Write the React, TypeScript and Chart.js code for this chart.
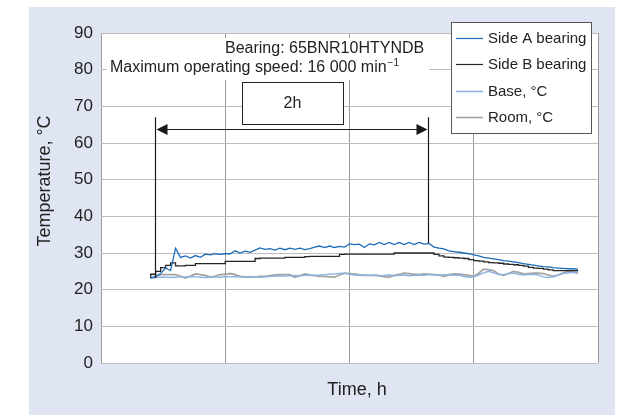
import React, { useEffect, useRef } from "react";
import { Chart, registerables } from "chart.js";

Chart.register(...registerables);

const FONT = "'Liberation Sans', Arial, Helvetica, sans-serif";

// Time axis positions (in grid units, 0..4)
const times = [
  0.40, 0.44, 0.48, 0.52, 0.56, 0.60, 0.64, 0.68, 0.72, 0.76,
  0.80, 0.84, 0.88, 0.92, 0.96, 1.00, 1.04, 1.08, 1.12, 1.16,
  1.20, 1.24, 1.28, 1.32, 1.36, 1.40, 1.44, 1.48, 1.52, 1.56,
  1.60, 1.64, 1.68, 1.72, 1.76, 1.80, 1.84, 1.88, 1.92, 1.96,
  2.00, 2.04, 2.08, 2.12, 2.16, 2.20, 2.24, 2.28, 2.32, 2.36,
  2.40, 2.44, 2.48, 2.52, 2.56, 2.60, 2.64, 2.68, 2.72, 2.76,
  2.80, 2.84, 2.88, 2.92, 2.96, 3.00, 3.04, 3.08, 3.12, 3.16,
  3.20, 3.24, 3.28, 3.32, 3.36, 3.40, 3.44, 3.48, 3.52, 3.56,
  3.60, 3.64, 3.68, 3.72, 3.76, 3.80, 3.84,
];

const sideA = [
  23.2, 23.6, 24.4, 25.9, 25.2, 31.3, 28.8, 29.2, 28.6, 29.3,
  28.8, 29.7, 29.5, 29.8, 29.6, 29.8, 29.8, 30.6, 30.0, 30.5,
  30.2, 30.8, 31.4, 31.0, 31.2, 30.8, 31.3, 30.9, 31.3, 31.0,
  31.3, 30.9, 31.2, 31.6, 31.9, 31.5, 31.9, 31.5, 31.8, 31.6,
  32.5, 32.3, 32.4, 31.5, 32.5, 32.2, 32.9, 32.3, 32.9, 32.3,
  32.9, 32.3, 32.9, 32.3, 32.9, 32.4, 32.6, 31.6, 31.3, 31.1,
  30.6, 30.4, 30.2, 30.0, 29.8, 29.5, 29.2, 28.8, 28.6, 28.4,
  28.2, 27.9, 27.8, 27.6, 27.4, 27.1, 26.9, 26.7, 26.5, 26.3,
  26.2, 26.0, 25.9, 25.8, 25.7, 25.7, 25.6,
];

const sideB = [
  23.2, 24.2, 25.0, 26.0, 26.6, 27.3, 26.5, 26.5, 26.6, 26.6,
  27.1, 27.1, 27.1, 27.1, 27.1, 27.1, 27.7, 27.7, 27.7, 27.7,
  27.7, 27.7, 28.5, 28.6, 28.6, 28.6, 28.6, 28.6, 28.8, 28.8,
  28.8, 28.8, 29.0, 29.1, 29.1, 29.1, 29.1, 29.1, 29.1, 29.6,
  29.7, 29.7, 29.7, 29.7, 29.7, 29.7, 29.7, 29.7, 29.7, 29.7,
  30.0, 30.0, 30.0, 30.0, 30.0, 30.0, 30.0, 30.0, 29.6, 29.2,
  28.9, 28.8, 28.7, 28.6, 28.5, 28.2, 27.9, 27.8, 27.6, 27.4,
  27.3, 27.2, 27.0, 26.9, 26.8, 26.6, 26.4, 26.1, 25.9, 25.8,
  25.6, 25.4, 25.2, 25.2, 25.2, 25.2, 25.2,
];

const base = [
  23.2, 23.3, 23.4, 23.4, 23.3, 23.4, 23.5, 23.5, 23.6, 23.5,
  23.4, 23.3, 23.4, 23.5, 23.4, 23.6, 23.5, 23.6, 23.5, 23.4,
  23.6, 23.5, 23.4, 23.5, 23.6, 23.7, 23.8, 23.7, 23.8, 23.9,
  23.8, 23.9, 24.0, 23.9, 24.0, 24.1, 24.2, 24.3, 24.4, 24.5,
  24.2, 24.0, 23.9, 24.0, 23.9, 24.0, 23.8, 23.9, 24.0, 23.8,
  23.9, 24.0, 23.8, 23.9, 24.0, 23.9, 24.1, 24.0, 23.9, 24.1,
  24.0, 23.9, 24.0, 23.6, 23.4, 23.5, 24.0, 24.6, 25.0, 24.6,
  24.2, 24.1, 24.4, 24.5, 24.2, 24.0, 24.1, 24.2, 24.0, 23.5,
  23.3, 23.6, 24.0, 24.4, 24.6, 24.7, 24.8,
];

const room = [
  23.0, 23.6, 24.1, 24.1, 24.1, 24.1, 23.6, 23.2, 23.7, 24.3,
  24.1, 23.9, 23.4, 23.7, 24.1, 24.2, 24.4, 24.1, 23.6, 23.5,
  23.4, 23.5, 23.6, 23.6, 23.8, 24.0, 24.1, 24.1, 24.1, 23.4,
  23.8, 24.3, 24.0, 23.8, 23.6, 23.6, 23.5, 23.4, 24.0, 24.5,
  24.4, 24.3, 24.0, 23.9, 23.9, 23.9, 23.8, 23.5, 23.4, 23.9,
  24.2, 24.5, 24.4, 24.2, 24.1, 24.3, 24.2, 24.1, 24.0, 23.6,
  24.1, 24.3, 24.2, 24.1, 23.9, 23.6, 24.5, 25.6, 25.4, 25.2,
  24.2, 23.9, 24.4, 25.0, 24.7, 24.3, 24.4, 24.5, 24.5, 24.4,
  24.0, 23.6, 24.0, 24.6, 25.0, 24.8, 24.5,
];

const seriesLabels = ["Side A bearing", "Side B bearing", "Base, °C", "Room, °C"];
const seriesColors = ["#1b6cb8", "#262626", "#8fb2e2", "#a3a3a3"];
const yTicks = [0, 10, 20, 30, 40, 50, 60, 70, 80, 90];
const xGrid = [0, 1, 2, 3, 4];

const yTitle = "Temperature, °C";
const xTitle = "Time, h";
const noteLine1 = "Bearing: 65BNR10HTYNDB";
const noteLine2 = "Maximum operating speed: 16 000 min";
const noteSup = "−1";
const spanLabel = "2h";

// 2h span markers (data units)
const spanStart = 0.434;
const spanEnd = 2.63;
const spanLevel = 63.8;
const spanTop = 67;
const spanStartFoot = 23.2;
const spanEndFoot = 32.7;

const bgPlugin = {
  id: "bg",
  beforeDraw(chart: any) {
    const ctx = chart.ctx;
    ctx.save();
    ctx.fillStyle = "#ffffff";
    ctx.fillRect(0, 0, chart.width, chart.height);
    ctx.fillStyle = "#dfe5f2";
    ctx.fillRect(29, 7, 586, 408);
    ctx.fillStyle = "#ffffff";
    const a = chart.chartArea;
    ctx.fillRect(a.left, a.top, a.right - a.left, a.bottom - a.top);
    ctx.restore();
  },
};

const annoPlugin = {
  id: "anno",
  afterDraw(chart: any) {
    const ctx = chart.ctx;
    const xs = chart.scales.x;
    const ys = chart.scales.y;
    ctx.save();

    // axis titles
    ctx.fillStyle = "#222";
    ctx.font = `18px ${FONT}`;
    ctx.textAlign = "center";
    ctx.textBaseline = "middle";
    ctx.fillText(xTitle, 357, 390);
    ctx.save();
    ctx.translate(45, 181);
    ctx.rotate(-Math.PI / 2);
    ctx.fillText(yTitle, 0, 0);
    ctx.restore();

    // note box
    ctx.fillStyle = "#ffffff";
    ctx.fillRect(107, 38, 322, 42);
    ctx.fillStyle = "#222";
    ctx.font = `16px ${FONT}`;
    ctx.textAlign = "left";
    ctx.textBaseline = "middle";
    ctx.fillText(noteLine1, 225, 49);
    ctx.fillText(noteLine2, 110, 68);
    const w2 = ctx.measureText(noteLine2).width;
    ctx.font = `10px ${FONT}`;
    ctx.fillText(noteSup, 110 + w2 + 1, 63);

    // 2h box
    ctx.fillStyle = "#ffffff";
    ctx.fillRect(242, 82, 101, 42);
    ctx.strokeStyle = "#222";
    ctx.lineWidth = 1;
    ctx.strokeRect(242.5, 82.5, 101, 42);
    ctx.fillStyle = "#222";
    ctx.font = `16px ${FONT}`;
    ctx.textAlign = "center";
    ctx.fillText(spanLabel, 292.5, 104);

    // span lines and arrow
    const x1 = Math.round(xs.getPixelForValue(spanStart)) + 0.5;
    const x2 = Math.round(xs.getPixelForValue(spanEnd)) + 0.5;
    const yA = Math.round(ys.getPixelForValue(spanLevel)) + 0.5;
    const yT = ys.getPixelForValue(spanTop);
    ctx.strokeStyle = "#1a1a1a";
    ctx.lineWidth = 1.2;
    ctx.beginPath();
    ctx.moveTo(x1, yT);
    ctx.lineTo(x1, ys.getPixelForValue(spanStartFoot));
    ctx.moveTo(x2, yT);
    ctx.lineTo(x2, ys.getPixelForValue(spanEndFoot));
    ctx.moveTo(x1 + 6, yA);
    ctx.lineTo(x2 - 6, yA);
    ctx.stroke();
    ctx.fillStyle = "#1a1a1a";
    ctx.beginPath();
    ctx.moveTo(x1 + 1, yA);
    ctx.lineTo(x1 + 12, yA - 5.5);
    ctx.lineTo(x1 + 12, yA + 5.5);
    ctx.closePath();
    ctx.fill();
    ctx.beginPath();
    ctx.moveTo(x2 - 1, yA);
    ctx.lineTo(x2 - 12, yA - 5.5);
    ctx.lineTo(x2 - 12, yA + 5.5);
    ctx.closePath();
    ctx.fill();

    // legend
    ctx.fillStyle = "#ffffff";
    ctx.fillRect(451, 22, 140, 111);
    ctx.strokeStyle = "#555";
    ctx.lineWidth = 1;
    ctx.strokeRect(451.5, 22.5, 140, 111);
    const rows = [38, 64, 91, 117];
    ctx.font = `15px ${FONT}`;
    ctx.textAlign = "left";
    ctx.textBaseline = "middle";
    chart.data.datasets.forEach((ds: any, i: number) => {
      ctx.strokeStyle = ds.borderColor;
      ctx.lineWidth = i >= 2 ? 1.6 : 1.2;
      ctx.beginPath();
      ctx.moveTo(456, rows[i] + 0.5);
      ctx.lineTo(483, rows[i] + 0.5);
      ctx.stroke();
      ctx.fillStyle = "#222";
      ctx.fillText(ds.label, 488, rows[i] + 1);
    });

    ctx.restore();
  },
};

export default function App() {
  const ref = useRef<HTMLCanvasElement>(null);
  useEffect(() => {
    const canvas = ref.current!;
    const mk = (vals: number[]) => times.map((t, i) => ({ x: t, y: vals[i] }));
    const series = [sideA, sideB, base, room];
    const chart = new Chart(canvas, {
      type: "line",
      data: {
        datasets: series.map((s, i) => ({
          label: seriesLabels[i],
          data: mk(s),
          borderColor: seriesColors[i],
          backgroundColor: seriesColors[i],
          borderWidth: i === 3 ? 1.8 : i === 2 ? 1.4 : 1.3,
          pointRadius: 0,
          tension: 0,
          stepped: i === 1 ? "after" : false,
          fill: false,
        })) as any,
      },
      options: {
        responsive: false,
        animation: false,
        devicePixelRatio: 1,
        layout: { padding: { left: 0, top: 33, right: 20, bottom: 52 } },
        plugins: { legend: { display: false }, tooltip: { enabled: false } },
        scales: {
          x: {
            type: "linear",
            min: 0,
            max: 4,
            afterBuildTicks: (s: any) => {
              s.ticks = xGrid.map((v) => ({ value: v }));
            },
            ticks: { display: false },
            grid: { color: "#9a9a9a", drawTicks: false, lineWidth: 1 },
            border: { display: false },
            afterFit: (s: any) => {
              s.height = 0;
            },
          },
          y: {
            type: "linear",
            min: 0,
            max: 90,
            afterBuildTicks: (s: any) => {
              s.ticks = yTicks.map((v) => ({ value: v }));
            },
            ticks: { padding: 8, color: "#222", font: { size: 17, family: FONT } },
            grid: { color: "#bdbdbd", drawTicks: false, lineWidth: 1 },
            border: { display: false },
            afterFit: (s: any) => {
              s.width = 101;
            },
          },
        },
      },
      plugins: [bgPlugin, annoPlugin],
    });
    return () => chart.destroy();
  }, []);
  return (
    <div style={{ position: "absolute", left: 0, top: 0, width: 618, height: 415 }}>
      <canvas ref={ref} width={618} height={415} style={{ display: "block" }} />
    </div>
  );
}
